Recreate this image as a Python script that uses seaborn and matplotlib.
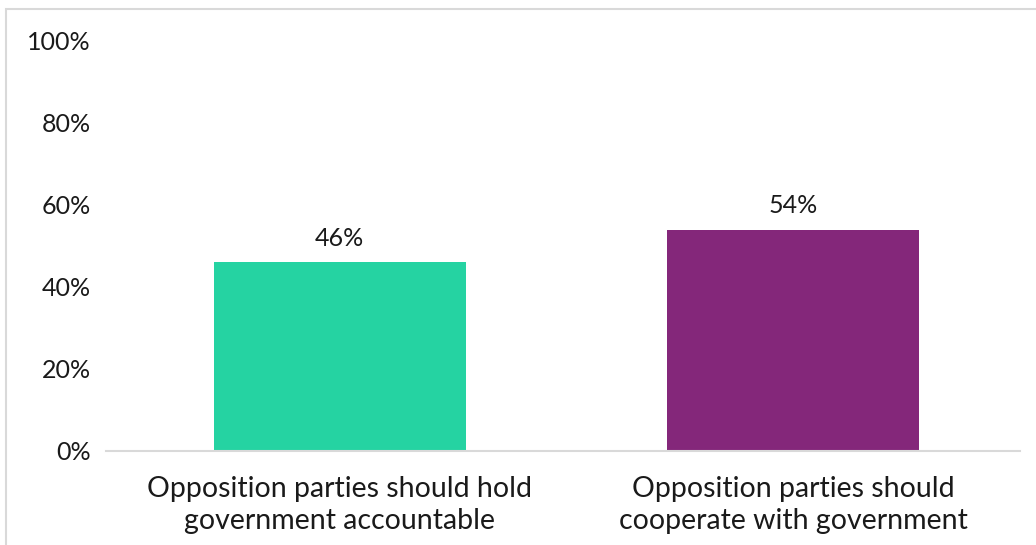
import matplotlib
matplotlib.use("Agg")
import matplotlib.pyplot as plt
import seaborn as sns
import pandas as pd
from matplotlib.patches import Rectangle

categories = ["Opposition parties should hold\ngovernment accountable",
              "Opposition parties should\ncooperate with government"]
values = [0.46, 0.54]
colors = ["#25D3A2", "#84277A"]
ytick_vals = [0, 0.2, 0.4, 0.6, 0.8, 1.0]
ytick_labels = ["0%", "20%", "40%", "60%", "80%", "100%"]

sns.set_style("white")
plt.rcParams["font.family"] = ["Lato", "DejaVu Sans"]

df = pd.DataFrame({"category": categories, "value": values})

fig = plt.figure(figsize=(10.36, 5.45), dpi=100)
ax = fig.add_axes([106 / 1036, 1 - 451 / 545, 914 / 1036, 410 / 545])

sns.barplot(data=df, x="category", y="value", hue="category", palette=colors,
            width=0.556, legend=False, ax=ax, saturation=1, linewidth=0)

for i, v in enumerate(values):
    ax.text(i, v + 0.03, f"{round(v * 100)}%", ha="center", va="bottom",
            fontsize=18, color="#1a1a1a")

ax.set_ylim(0, 1)
ax.set_xlim(-0.515, 1.5)
ax.set_yticks(ytick_vals)
ax.set_yticklabels(ytick_labels, fontsize=18, color="#1a1a1a")
for lbl in ax.get_xticklabels():
    lbl.set_linespacing(1.3)
ax.tick_params(axis="x", labelsize=20.5, labelcolor="#1a1a1a", length=0, pad=18)
ax.tick_params(axis="y", length=0, pad=11)
ax.set_xlabel("")
ax.set_ylabel("")
for s in ["top", "right", "left"]:
    ax.spines[s].set_visible(False)
ax.spines["bottom"].set_color("#D9D9D9")
ax.spines["bottom"].set_linewidth(1.5)

# outer chart border
fig.patches.append(Rectangle((6 / 1036, -0.1), 1.2, 1 - 9 / 545 + 0.1,
                             transform=fig.transFigure, fill=False,
                             edgecolor="#D9D9D9", linewidth=1.5))

fig.savefig("out.png", dpi=100)
